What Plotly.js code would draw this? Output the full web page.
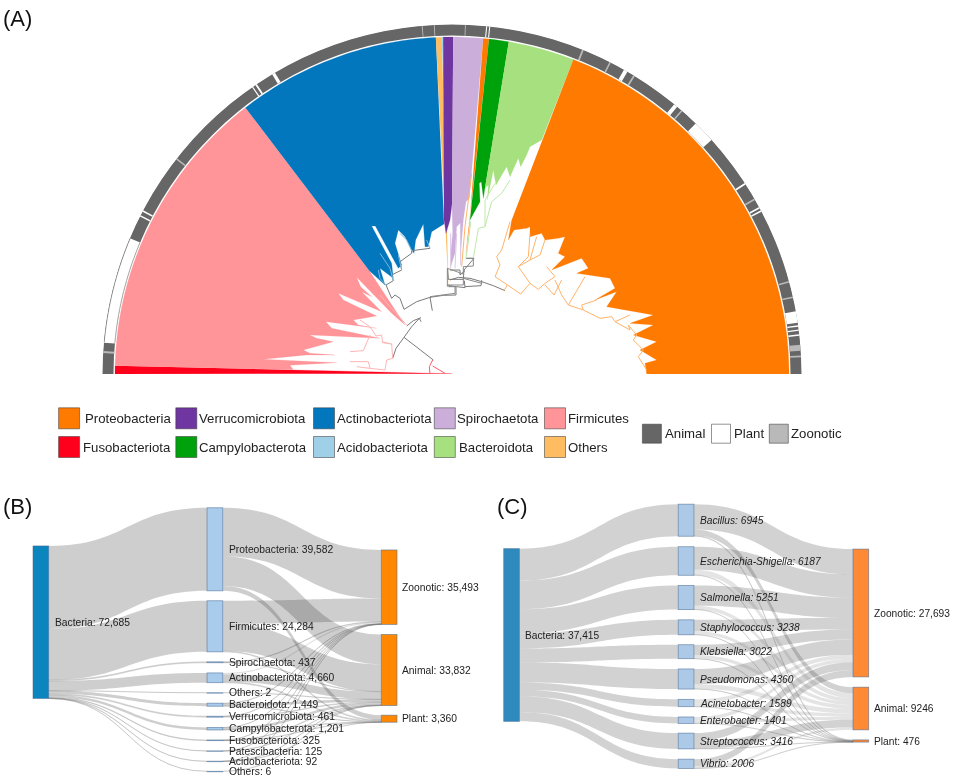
<!DOCTYPE html>
<html>
<head>
<meta charset="utf-8">
<script src="https://cdn.plot.ly/plotly-3.0.1.min.js"></script>
<style>html,body{margin:0;padding:0;background:#fff}#chart{width:953px;height:776px;filter:blur(0.45px)}</style>
</head>
<body>
<div id="chart"></div>
<script>
// ---------- Panel A: clades (name, colour, start and end angle in degrees)
const cladeNames  = ['Fusobacteriota','Firmicutes','Actinobacteriota','Others','Acidobacteriota','Verrucomicrobiota','Spirochaetota','Proteobacteria','Campylobacterota','Bacteroidota','Proteobacteria'];
const cladeColors = ['#FF001C','#FF9499','#0277BD','#FFBC60','#9FD0E8','#6F35A0','#CBAFDA','#FF7A00','#00A20B','#A6E07F','#FF7A00'];
const cladeStart  = [180,178.6,127.8,92.75,91.75,91.5,89.8,84.7,83.7,80.3,68.9];
const cladeEnd    = [178.6,127.8,92.75,91.75,91.5,89.8,84.7,83.7,80.3,68.9,0];

// inner (tip) edges of each clade, read as x,y pairs from the picture at 3x; root of tree is at (cx,cy)
const leftRoot = [1086,1062], rightRoot = [66,1062], midRoot = [306,462];
const fusoEdge   = [1085,1061];
const firmEdge   = [838,752,945,915,905,880,800,772,812,800,845,830,815,815,875,875,745,820,760,840,860,888,790,900,805,915,860,925,708,905,725,925,870,955,660,945,680,955,730,965,640,990,660,1000,735,1005,650,1005,520,1018,740,1028,600,1036,610,1049];
const actinoEdge = [838,752,885,795,870,745,910,775,905,730,845,618,856,618,925,745,935,735,915,670,925,630,945,650,965,690,972,700,977,660,1000,612,1005,680,1015,680,1025,635,1062,612];
const othersEdge = [1075,795];
const acidoEdge  = [1073,560];
const verrucoEdge= [42,600,48,640,60,600,66,552];
const spiroEdge  = [66,555,68,640,62,700,62,740,75,700,80,620,90,610,92,700,100,600,108,545,118,535];
const proteoThin = [108,700,118,620];
const campyEdge  = [120,600,150,545,148,490,154,485,160,535];
const bacteroEdge= [160,535,165,505,175,495,172,540,190,450,198,495,230,440,240,470,265,415,272,440,290,405,300,380,335,360];
const proteoEdge = [245,600,235,660,252,630,290,625,300,620,300,650,335,640,345,660,385,655,405,650,385,700,405,710,365,750,455,715,475,745,440,760,540,775,555,805,495,840,560,815,530,860,670,885,600,910,670,915,610,945,680,965,630,990,680,1020,645,1030,650,1062];

// tree branches, as polylines at 3x
const grayBranches = [
 [250,420,162,352],[128,415,138,385,162,352,185,320,208,295,213,305],[170,318,190,302,213,293],
 [240,232,247,272],[162,268,200,245,240,232,280,226,318,225],[318,225,318,200],[295,200,320,200,345,203],
 [345,203,343,182],[300,180,325,172,360,175,395,185,430,197,465,212],[345,200,393,197,395,185],
 [162,268,150,235,135,225,125,235,108,195,130,182,125,165,155,150,150,125,185,100,185,92,240,85],
 [293,145,295,178,340,178,342,150,372,115,350,115],[300,150,330,150,330,165,345,152]];
const pinkBranches = [
 [128,415,125,372,98,368,95,345,78,348,60,320,30,300],[125,372,95,365],[105,450,110,420,128,415],
 [0,425,55,425,60,445,105,450],[20,440,60,445],[0,395,40,392,60,345],[170,315,120,260,90,225]];
const redBranches  = [[248,420,238,440,240,462],[248,438,285,460],[240,462,305,462]];
const blueBranches = [[185,92,170,60,150,40],[130,182,120,145,90,100],[155,150,145,105],[108,195,90,175,85,150],[240,85,230,60]];
const orangeBranches = [
 [195,770,240,800,272,822,300,790,265,740,300,720,330,705],[195,770,210,735,200,710,215,690,240,605],[222,812,232,795],
 [265,740,295,710,300,640],[300,790,325,808,345,790,375,770,350,740],[375,780,395,825,415,855,465,770],[345,795,372,825,395,780],
 [415,855,460,870,455,855,500,840],[460,870,510,895,545,890,555,905,600,885],[555,905,600,930,595,915,620,945,610,960,640,990,625,1010,650,1050],
 [330,705,345,660],[300,720,320,650],[95,740,105,620,125,460]];
const lilacBranches = [[62,745,62,640],[75,745,80,640],[92,735,92,610]];
const greenBranches = [[108,715,118,640,122,605],[130,715,145,625,165,620,165,540,195,490],[165,620,185,545,215,520,240,480]];
const darkTopBranches = [[52,800,52,745,100,762,100,740,130,738,130,715,108,715],[0,830,75,820,75,800,52,795,100,795,100,775,155,790,155,780]];

// outer ring: host type of each stretch (angle in degrees, width in degrees)
const hostNames  = ['Animal','Plant','Zoonotic'];
const hostColors = ['#666666','#FFFFFF','#B9B9B9'];
const plantTheta = [166,152.2,153.1,124.1,124.8,120.7,84.3,83.8,60.2,50.2,45.5,43.7,33,28.4,27.8,9.4,7.9,7.2,6.4];
const plantWidth = [17.7,.25,.25,.3,.2,.55,.18,.18,.65,.65,.6,3.3,.3,.25,.25,1.9,.22,.22,.22];
const zooTheta   = [176.4,142,94.9,92.9,87.8,68,63.1,58.6,48.9,30,15.3,12.7,4.3,2.9];
const zooWidth   = [.35,.25,.15,.15,.15,.3,.25,.3,.25,.25,.25,.25,1,.3];

// ---------- Legends
const legendNames  = [['Proteobacteria','Verrucomicrobiota','Actinobacteriota','Spirochaetota','Firmicutes'],['Fusobacteriota','Campylobacterota','Acidobacteriota','Bacteroidota','Others']];
const legendColors = [['#FF7A00','#6F35A0','#0277BD','#CBAFDA','#FF9499'],['#FF001C','#00A20B','#9FD0E8','#A6E07F','#FFBC60']];
const legendSquareX = [69.1,186.3,324,444.8,555];
const legendTextX   = [[84.5,199,336.5,457,568],[83.2,199,336.5,459,568]];
const legendRowY    = [418.3,447];
const hostSquareX   = [651.9,721,778.8];
const hostTextX     = [664.7,733.5,791];
const hostRowY      = 433.7;

// ---------- Panel B sankey
const bNames  = ['Bacteria','Proteobacteria','Firmicutes','Spirochaetota','Actinobacteriota','Others','Bacteroidota','Verrucomicrobiota','Campylobacterota','Fusobacteriota','Patescibacteria','Acidobacteriota','Others','Zoonotic','Animal','Plant'];
const bShown  = ['72,685','39,582','24,284','437','4,660','2','1,449','461','1,201','325','125','92','6','35,493','33,832','3,360'];
const bToZoo    = [23100,11013,250,620,0,200,120,60,60,40,30,0];
const bToAnimal = [14200,12916,187,3600,2,1100,341,1081,254,85,60,6];
const bToPlant  = [2282,416,0,440,0,149,0,60,11,0,2,0];
const bNodeY  = [622.2,549.3,626.3,662.3,677.8,692.7,704.7,716.7,728.7,740.3,751,761.3,771.3,587.2,670,718.7];

// ---------- Panel C sankey
const cNames  = ['Bacteria','Bacillus','Escherichia-Shigella','Salmonella','Staphylococcus','Klebsiella','Pseudomonas','Acinetobacter','Enterobacter','Streptococcus','Vibrio','Zoonotic','Animal','Plant'];
const cShown  = ['37,415','6945','6187','5251','3238','3022','4360','1589','1401','3416','2006','27,693','9246','476'];
const cToZoo    = [5500,5000,4400,2500,2200,3300,850,750,1700,1493];
const cToAnimal = [1300,1100,800,700,780,1000,720,640,1700,506];
const cToPlant  = [145,87,51,38,42,60,19,11,16,7];
const cNodeY  = [635,520.2,561,597.5,627.3,651.7,679,703,720.2,741,763.8,613,708.5,741];

// ---------- helpers
const W = 953, H = 776;
function crop(pairs, root){
  const t=[], r=[];
  for(let i=0;i<pairs.length;i+=2){
    const dx=(pairs[i]-root[0])/3, dy=(root[1]-pairs[i+1])/3;
    t.push(Math.atan2(dy,dx)*180/Math.PI); r.push(Math.hypot(dx,dy));
  }
  return {t,r};
}
function arc(a,b,rad){
  const n=Math.max(1,Math.ceil(Math.abs(a-b))), t=[], r=[];
  for(let i=0;i<=n;i++){t.push(a+(b-a)*i/n); r.push(rad);}
  return {t,r};
}
const traces=[];
const RIN=337;
const cladeEdges=[crop(fusoEdge,leftRoot),crop(firmEdge,leftRoot),crop(actinoEdge,leftRoot),crop(othersEdge,leftRoot),crop(acidoEdge,leftRoot),
  crop(verrucoEdge,rightRoot),crop(spiroEdge,rightRoot),crop(proteoThin,rightRoot),crop(campyEdge,rightRoot),crop(bacteroEdge,rightRoot),crop(proteoEdge,rightRoot)];
// ring
traces.push({type:'barpolar',theta:[90],width:[180],base:[338.5],r:[11],marker:{color:hostColors[0],line:{width:0}},hoverinfo:'skip',showlegend:false});
traces.push({type:'barpolar',theta:plantTheta,width:plantWidth,base:plantTheta.map(()=>338.5),r:plantTheta.map(()=>11),marker:{color:hostColors[1],line:{width:0}},hoverinfo:'skip',showlegend:false});
traces.push({type:'barpolar',theta:zooTheta,width:zooWidth,base:zooTheta.map(()=>338.5),r:zooTheta.map(()=>11),marker:{color:hostColors[2],line:{width:0}},hoverinfo:'skip',showlegend:false});
// ring rim of the white stretch
traces.push({type:'scatterpolar',mode:'lines',theta:arc(174.8,157.1,349.3).t,r:arc(174.8,157.1,349.3).r,line:{color:'#888',width:1},hoverinfo:'skip',showlegend:false});
traces.push({type:'scatterpolar',mode:'lines',theta:arc(174.8,157.1,338.6).t,r:arc(174.8,157.1,338.6).r,line:{color:'#aaa',width:1},hoverinfo:'skip',showlegend:false});
// clades
cladeNames.forEach((name,i)=>{
  const o=arc(cladeStart[i],cladeEnd[i],RIN), e=cladeEdges[i];
  const first=e.t[0], last=e.t[e.t.length-1];
  const keep=Math.abs(first-cladeEnd[i])<Math.abs(last-cladeEnd[i]);
  const inT = keep ? e.t : e.t.slice().reverse();
  const inR = keep ? e.r : e.r.slice().reverse();
  traces.push({type:'scatterpolar',mode:'lines',name:name,theta:o.t.concat(inT),r:o.r.concat(inR),fill:'toself',fillcolor:cladeColors[i],line:{color:cladeColors[i],width:0.2},hoverinfo:'skip',showlegend:false});
});
function branches(list,root,color,w){
  const t=[],r=[];
  list.forEach(p=>{const c=crop(p,root); t.push(...c.t,null); r.push(...c.r,null);});
  traces.push({type:'scatterpolar',mode:'lines',theta:t,r:r,line:{color:color,width:w},hoverinfo:'skip',showlegend:false,connectgaps:false});
}
branches(grayBranches,midRoot,'#7a7a7a',1);
branches(pinkBranches,midRoot,'#FFB5B5',1);
branches(redBranches,midRoot,'#FF5A6A',1);
branches(blueBranches,midRoot,'#7DB8DC',1);
branches(orangeBranches,rightRoot,'#FFB36B',1);
branches(lilacBranches,rightRoot,'#DCC8E6',1);
branches(greenBranches,rightRoot,'#BFE8A6',1);
branches(darkTopBranches,rightRoot,'#8a8a8a',1);

// legend squares on a page-sized hidden cartesian frame
const ann=[];
function note(x,y,text,size,color){
  ann.push({xref:'x',yref:'y',x:x,y:y,text:text,showarrow:false,xanchor:'left',yanchor:'middle',borderpad:0,borderwidth:0,
    font:{family:'"Liberation Sans",Arial,sans-serif',size:size,color:color||'#222'}});
}
legendNames.forEach((row,ri)=>{
  traces.push({type:'scatter',mode:'markers',x:legendSquareX,y:row.map(()=>legendRowY[ri]),hoverinfo:'skip',showlegend:false,
    marker:{symbol:'square',size:21,color:legendColors[ri],line:{color:'rgba(60,60,60,0.55)',width:1}}});
  row.forEach((n,i)=>note(legendTextX[ri][i],legendRowY[ri],n,13.2));
});
traces.push({type:'scatter',mode:'markers',x:hostSquareX,y:hostSquareX.map(()=>hostRowY),hoverinfo:'skip',showlegend:false,
  marker:{symbol:'square',size:19,color:hostColors,line:{color:'rgba(60,60,60,0.55)',width:1}}});
hostNames.forEach((n,i)=>note(hostTextX[i],hostRowY,n,13.2));

note(3,18,'(A)',22,'#111'); note(3,506,'(B)',22,'#111'); note(497,506,'(C)',22,'#111');

// sankeys
function sankey(names,toZ,toA,toP,nodeY,left,right,top,bottom,pad,colors,thinLimit,thinColor,linkColor){
  const mids=toZ.length, wide=right-left, tall=bottom-top, thick=15.7;
  const src=[],tgt=[],val=[];
  toZ.forEach((z,i)=>{src.push(0);tgt.push(i+1);val.push(toZ[i]+toA[i]+toP[i]);});
  [toZ,toA,toP].forEach((arr,k)=>arr.forEach((v,i)=>{ if(v>0){src.push(i+1);tgt.push(mids+1+k);val.push(v);} }));
  const xs=names.map((_,i)=> i===0 ? thick/2/wide : (i<=mids ? 0.4997 : 1-thick/2/wide));
  const ys=nodeY.map(y=>(y-top)/tall);
  const col=names.map((_,i)=> i===0 ? colors[0] : (i<=mids ? colors[1] : colors[2]));
  traces.push({type:'sankey',arrangement:'fixed',domain:{x:[left/W,right/W],y:[1-bottom/H,1-top/H]},hoverinfo:'skip',
    node:{label:names.map(()=>''),x:xs,y:ys,pad:pad,thickness:thick,color:col,line:{color:'rgba(70,105,145,0.65)',width:0.8},hoverinfo:'skip'},
    link:{source:src,target:tgt,value:val,color:val.map(v=> v<thinLimit?thinColor:linkColor),line:{color:'rgba(0,0,0,0)',width:0},hoverinfo:'skip'}});
}
sankey(bNames,bToZoo,bToAnimal,bToPlant,bNodeY,33,397,507,775,10.5,['#0A85BE','#A9CBEC','#FF8800'],700,'rgba(120,120,120,0.22)','rgba(60,60,60,0.25)');
sankey(cNames,cToZoo,cToAnimal,cToPlant,cNodeY,503.7,868.7,504,768.5,10.2,['#2E8ABD','#ADC9E8','#FF8A36'],1200,'rgba(120,120,120,0.2)','rgba(60,60,60,0.23)');

bNames.forEach((n,i)=>note(i===0?54.7:(i<=12?228.7:402.3),bNodeY[i],n+': '+bShown[i],10.3));
cNames.forEach((n,i)=>{
  const mid=i>=1&&i<=10;
  note(i===0?525.3:(mid?700:874),cNodeY[i],mid?'<i>'+n+': '+cShown[i]+'</i>':n+': '+cShown[i],10.2);
});

const layout={
  width:W,height:H,margin:{l:0,r:0,t:0,b:0},paper_bgcolor:'#fff',plot_bgcolor:'rgba(0,0,0,0)',showlegend:false,
  xaxis:{range:[0,W],visible:false,domain:[0,1],fixedrange:true},
  yaxis:{range:[H,0],visible:false,domain:[0,1],fixedrange:true},
  polar:{domain:{x:[102/W,802/W],y:[1-374/H,1-24/H]},sector:[0,180],bgcolor:'rgba(0,0,0,0)',
    radialaxis:{visible:false,range:[0,350]},angularaxis:{visible:false,direction:'counterclockwise',rotation:0},bargap:0,barmode:'overlay'},
  annotations:ann
};
Plotly.newPlot('chart',traces,layout,{displayModeBar:false,staticPlot:true});
</script>
</body>
</html>
